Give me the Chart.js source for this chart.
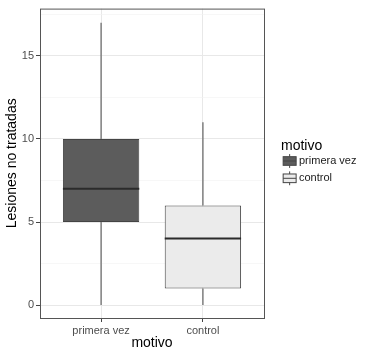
<!DOCTYPE html>
<html>
<head>
<meta charset="utf-8">
<script src="https://cdn.jsdelivr.net/npm/chart.js@4/dist/chart.umd.min.js"></script>
<style>
  html, body { margin: 0; padding: 0; background: #fff; }
</style>
</head>
<body>
<canvas id="chart" width="368" height="354"></canvas>
<script>
const categories = ['primera vez', 'control'];
const mins = [0, 0];
const q1s = [5, 1];
const medians = [7, 4];
const q3s = [10, 6];
const maxs = [17, 11];
const yTicks = [0, 5, 10, 15];
const yMinorTicks = [2.5, 7.5, 12.5, 17.5];
const fills = ['#5c5c5c', '#ebebeb'];

const FONT = '"Liberation Sans", Arial, sans-serif';
const isMajor = (v) => yTicks.includes(v);

// whiskers, medians, panel border and ggplot-like legend
const boxParts = {
  id: 'boxParts',
  afterDatasetsDraw(chart) {
    const { ctx, chartArea: a, scales: { x, y } } = chart;
    ctx.save();
    categories.forEach((_, i) => {
      const cx = x.getPixelForValue(i + 1);
      const half = x.getPixelForValue(i + 1 + 0.375) - cx;
      ctx.strokeStyle = '#6e6e6e';
      ctx.lineWidth = 1.3;
      ctx.beginPath();
      ctx.moveTo(cx, y.getPixelForValue(q3s[i]));
      ctx.lineTo(cx, y.getPixelForValue(maxs[i]));
      ctx.moveTo(cx, y.getPixelForValue(q1s[i]));
      ctx.lineTo(cx, y.getPixelForValue(mins[i]));
      ctx.stroke();
      ctx.strokeStyle = '#2b2b2b';
      ctx.lineWidth = 2;
      ctx.beginPath();
      const my = y.getPixelForValue(medians[i]);
      ctx.moveTo(cx - half, my);
      ctx.lineTo(cx + half, my);
      ctx.stroke();
    });
    ctx.strokeStyle = '#555';
    ctx.lineWidth = 1;
    ctx.strokeRect(a.left + 0.5, a.top + 0.5, a.right - a.left, a.bottom - a.top);
    ctx.restore();
  },
  afterDraw(chart) {
    const ctx = chart.ctx;
    ctx.save();
    ctx.fillStyle = '#000';
    ctx.font = '14px ' + FONT;
    ctx.textBaseline = 'middle';
    ctx.textAlign = 'left';
    ctx.fillText('motivo', 281, 146);
    const k = 17.3;
    categories.forEach((label, i) => {
      const kx = 281, cy = 161 + i * 17.3;
      const ky = cy - k / 2;
      ctx.fillStyle = fills[i];
      ctx.fillRect(kx + 0.125 * k, ky + 0.25 * k, 0.75 * k, 0.5 * k);
      ctx.strokeStyle = '#444';
      ctx.lineWidth = 1;
      ctx.strokeRect(kx + 0.125 * k, ky + 0.25 * k, 0.75 * k, 0.5 * k);
      ctx.beginPath();
      ctx.moveTo(kx + 0.5 * k, ky + 0.1 * k);
      ctx.lineTo(kx + 0.5 * k, ky + 0.25 * k);
      ctx.moveTo(kx + 0.5 * k, ky + 0.75 * k);
      ctx.lineTo(kx + 0.5 * k, ky + 0.9 * k);
      ctx.moveTo(kx + 0.125 * k, cy);
      ctx.lineTo(kx + 0.875 * k, cy);
      ctx.stroke();
      ctx.fillStyle = '#1a1a1a';
      ctx.font = '11px ' + FONT;
      ctx.fillText(label, 299, cy);
    });
    ctx.restore();
  },
};

new Chart(document.getElementById('chart'), {
  type: 'bar',
  data: {
    datasets: [{
      data: categories.map((_, i) => ({ x: i + 1, y: [q1s[i], q3s[i]] })),
      backgroundColor: fills,
      borderColor: '#444',
      borderWidth: 1,
      borderSkipped: false,
      categoryPercentage: 1,
      barPercentage: 0.75,
    }],
  },
  options: {
    responsive: false,
    animation: false,
    layout: { padding: { top: 5, right: 104, left: 0, bottom: 0 } },
    plugins: { legend: { display: false }, tooltip: { enabled: false } },
    scales: {
      x: {
        type: 'linear',
        min: 0.4,
        max: 2.6,
        offset: false,
        afterBuildTicks: (s) => { s.ticks = categories.map((_, i) => ({ value: i + 1 })); },
        afterFit: (s) => { s.height = 36; },
        ticks: {
          callback: (v) => categories[v - 1] ?? '',
          color: '#4d4d4d',
          font: { family: FONT, size: 11 },
          padding: 2,
          maxRotation: 0,
        },
        grid: { offset: false, color: '#e8e8e8', lineWidth: 1, tickLength: 4, tickColor: '#444' },
        border: { display: false },
        title: {
          display: true,
          text: 'motivo',
          color: '#000',
          font: { family: FONT, size: 14 },
          padding: { top: 0, bottom: 2 },
        },
      },
      y: {
        min: -0.78,
        max: 17.85,
        afterBuildTicks: (s) => {
          s.ticks = [...yTicks, ...yMinorTicks].sort((a, b) => a - b).map((v) => ({ value: v }));
        },
        afterFit: (s) => { s.width = 40; },
        ticks: {
          callback: (v) => (isMajor(v) ? String(v) : ''),
          color: '#4d4d4d',
          font: { family: FONT, size: 11 },
          padding: 2,
        },
        grid: {
          color: (c) => (isMajor(c.tick.value) ? '#e8e8e8' : '#f2f2f2'),
          lineWidth: (c) => (isMajor(c.tick.value) ? 1 : 0.6),
          tickLength: 4,
          tickColor: (c) => (isMajor(c.tick.value) ? '#444' : 'rgba(0,0,0,0)'),
        },
        border: { display: false },
        title: {
          display: true,
          text: 'Lesiones no tratadas',
          color: '#000',
          font: { family: FONT, size: 14 },
          padding: { top: 4, bottom: 0 },
        },
      },
    },
  },
  plugins: [boxParts],
});
</script>
</body>
</html>
